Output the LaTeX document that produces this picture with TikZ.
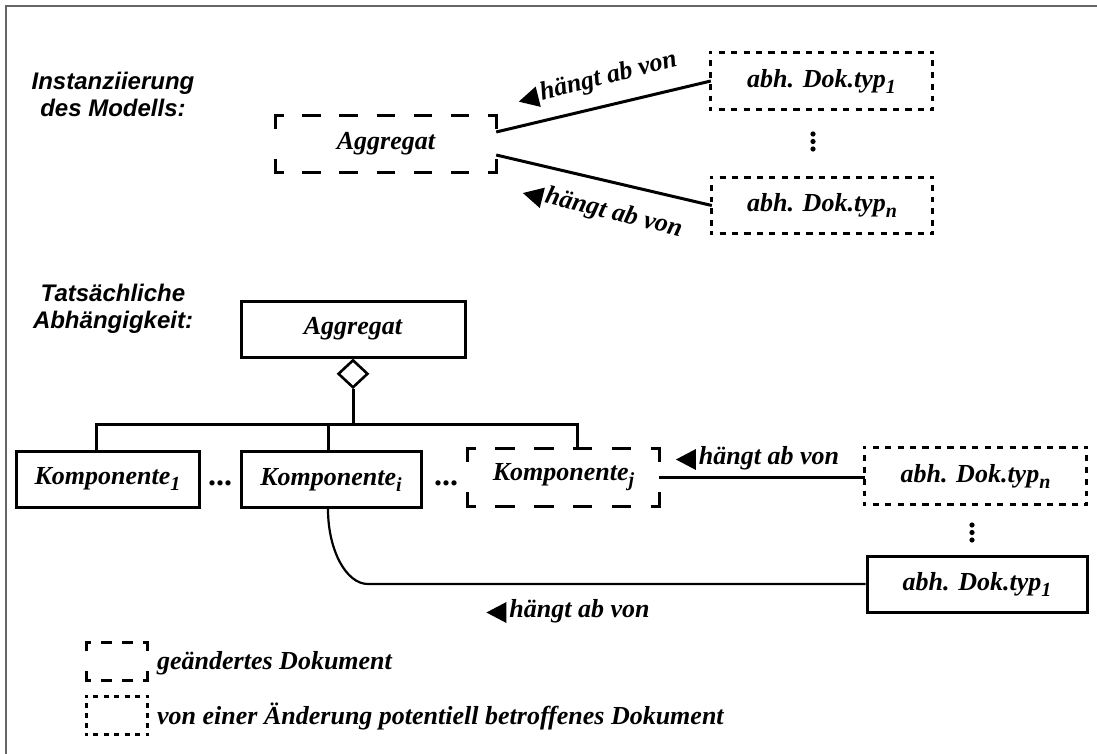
\documentclass[tikz,border=0pt]{standalone}
\usepackage{fontspec}
\setmainfont{Liberation Serif}
\newfontfamily\headfont{Liberation Sans}
\usetikzlibrary{shapes.geometric}

% border made of dashes whose ends sit on the corners
% #1 node, #2 width, #3 height, #4 periods along width, #5 periods along height
\newcommand\brokenframe[5]{%
  \pgfmathsetmacro\halfw{(#2+3)/(2*#4)}%
  \pgfmathsetmacro\quarw{\halfw/2}%
  \pgfmathsetmacro\halfh{(#3+3)/(2*#5)}%
  \pgfmathsetmacro\quarh{\halfh/2}%
  \draw[line width=3pt, dash pattern=on \halfw pt off \halfw pt, dash phase=\quarw pt]
    ([xshift=-1.5pt]#1.north west) -- ([xshift=1.5pt]#1.north east)
    ([xshift=-1.5pt]#1.south west) -- ([xshift=1.5pt]#1.south east);
  \draw[line width=3pt, dash pattern=on \halfh pt off \halfh pt, dash phase=\quarh pt]
    ([yshift=1.5pt]#1.north west) -- ([yshift=-1.5pt]#1.south west)
    ([yshift=1.5pt]#1.north east) -- ([yshift=-1.5pt]#1.south east);
}

% filled arrow head pointing left, set in front of the relation name
\newcommand\lefttip{\tikz[x=1pt,y=1pt,baseline=0pt]\fill (0,4.5) -- (20,15) -- (20,-6) -- cycle;\hspace{3pt}}
% large, lowered index
\newcommand\idx[1]{\raisebox{-6pt}{\fontsize{20}{20}\selectfont #1}}

\tikzset{
  boxtext/.style={font=\fontsize{26}{30}\selectfont\bfseries\itshape, inner sep=0pt},
  solidbox/.style={boxtext, draw, line width=3pt},
  conn/.style={line width=3pt},
  thinconn/.style={line width=2.2pt},
  heading/.style={font=\fontsize{24}{28}\selectfont\headfont\bfseries\itshape, inner sep=0pt, anchor=base},
  relname/.style={font=\fontsize{26}{30}\selectfont\bfseries\itshape, inner sep=0pt, anchor=base},
  legendtext/.style={font=\fontsize{26}{30}\selectfont\bfseries\itshape, inner sep=0pt, anchor=base west},
  ellipsis/.style={font=\fontsize{32}{36}\selectfont\bfseries, inner sep=0pt, anchor=base},
}

\begin{document}
\begin{tikzpicture}[x=1pt,y=-1pt]
\useasboundingbox (0,0) rectangle (1097,754);

% frame
\draw[line width=2pt, draw=black!60] (6,754) -- (6,6) -- (1097,6);

% ---------- upper part ----------
\node[heading] (h1a) at (113,90) {Instanziierung};
\node[heading] (h1b) at (113,117) {des Modells:};

\node[boxtext, minimum width=220pt, minimum height=56pt] (agg1) at (386,144) {Aggregat};
\brokenframe{agg1}{220}{56}{6}{1}

\node[boxtext, minimum width=221pt, minimum height=56pt] (dt1) at (821.5,81) {abh. Dok.typ\idx{1}};
\brokenframe{dt1}{221}{56}{18}{5}
\node[boxtext, minimum width=220pt, minimum height=55pt] (dtn1) at (822,205.5) {abh. Dok.typ\idx{n}};
\brokenframe{dtn1}{220}{55}{18}{5}

\fill (813,134) circle[radius=2.6pt] (813,141.5) circle[radius=2.6pt] (813,149) circle[radius=2.6pt];

\draw[conn] ([yshift=12pt]agg1.east) -- (dt1.west);
\draw[conn] ([yshift=-11pt]agg1.east) -- (dtn1.west);

\node[relname, rotate=14.2] (r1) at (599,86) {\lefttip hängt ab von};
\node[relname, rotate=-13.9] (r2) at (601,217) {\lefttip hängt ab von};

% ---------- lower part ----------
\node[heading] (h2a) at (113,301) {Tatsächliche};
\node[heading] (h2b) at (113,328) {Abhängigkeit:};

\node[solidbox, minimum width=224pt, minimum height=56pt] (agg2) at (353,329) {Aggregat};
\node[diamond, draw, line width=2.6pt, fill=white, minimum width=30pt, minimum height=28pt,
      inner sep=0pt, anchor=north] (dia) at (agg2.south) {};

\node[solidbox, minimum width=183pt, minimum height=56pt] (k1) at (107.5,479) {Komponente\idx{1}};
\node[ellipsis] (e1) at (220,485) {...};
\node[solidbox, minimum width=180pt, minimum height=56pt] (ki) at (331,479.5) {Komponente\idx{i}};
\node[ellipsis] (e2) at (446,485) {...};
\node[boxtext, minimum width=191pt, minimum height=57pt] (kj) at (563.5,477.5) {Komponente\idx{j}};
\brokenframe{kj}{191}{57}{5}{1}

\coordinate (bus) at (353,424);
\draw[conn] (dia.south) -- (bus);
\draw[conn] ([xshift=-11.5pt]k1.north) |- (bus) -| ([xshift=13.5pt]kj.north);
\draw[conn] ([xshift=-3pt]ki.north) -- ([xshift=-3pt]ki.north |- bus);

\node[boxtext, minimum width=221pt, minimum height=56pt] (dtn2) at (975.5,476) {abh. Dok.typ\idx{n}};
\brokenframe{dtn2}{221}{56}{18}{5}
\fill (972,525) circle[radius=2.6pt] (972,532.5) circle[radius=2.6pt] (972,540) circle[radius=2.6pt];
\node[solidbox, minimum width=220pt, minimum height=56pt] (dt12) at (977,584) {abh. Dok.typ\idx{1}};

\draw[conn] (kj.east) -- (kj.east -| dtn2.west);
\node[relname] (r3) at (757.5,464) {\lefttip hängt ab von};

\coordinate (bend) at (368,584);
\draw[thinconn] ([xshift=-3pt]ki.south) .. controls +(0,41) and +(-22,0) .. (bend) -- (dt12.west);
\node[relname] (r4) at (568,617) {\lefttip hängt ab von};

% ---------- legend ----------
\node[minimum width=60pt, minimum height=37pt, inner sep=0pt] (lg1) at (117,661.5) {};
\brokenframe{lg1}{60}{37}{3}{1}
\node[legendtext] (lt1) at (157,669) {geändertes Dokument};
\node[minimum width=60pt, minimum height=37pt, inner sep=0pt] (lg2) at (117,715.5) {};
\brokenframe{lg2}{60}{37}{6}{4}
\node[legendtext] (lt2) at (157,724) {von einer Änderung potentiell betroffenes Dokument};
\end{tikzpicture}
\end{document}
